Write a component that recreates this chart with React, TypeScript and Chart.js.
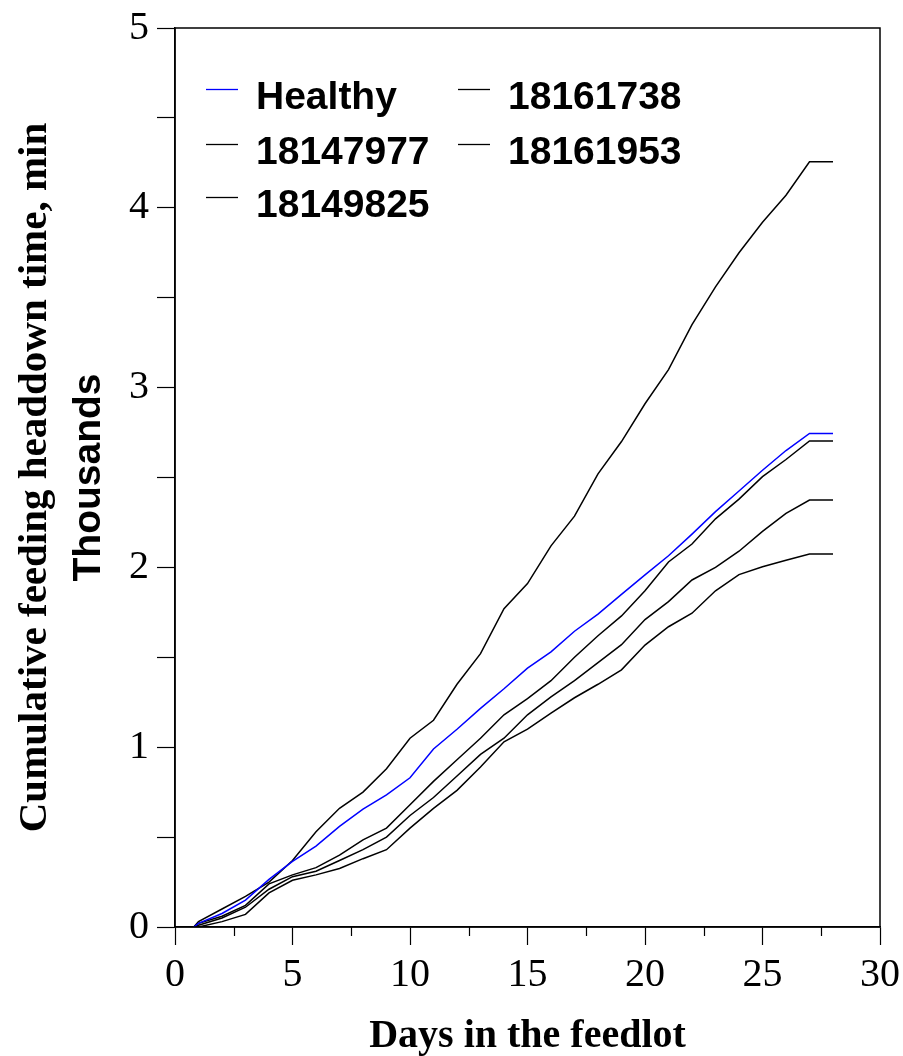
import React, { useEffect, useRef } from 'react';
import { Chart, registerables } from 'chart.js';

Chart.register(...registerables);

// ---- data ----
const days = [0.8, 1, 2, 3, 4, 5, 6, 7, 8, 9, 10, 11, 12, 13, 14, 15, 16, 17, 18, 19, 20, 21, 22, 23, 24, 25, 26, 27, 28];

const healthy = [0, 0.02, 0.075, 0.15, 0.265, 0.365, 0.45, 0.56, 0.655, 0.735, 0.83, 0.99, 1.1, 1.216, 1.325, 1.44, 1.53, 1.645, 1.74, 1.85, 1.958, 2.065, 2.185, 2.31, 2.425, 2.54, 2.65, 2.745, 2.745];
const s18147977 = [0, 0.02, 0.06, 0.12, 0.24, 0.29, 0.33, 0.4, 0.485, 0.55, 0.68, 0.81, 0.93, 1.05, 1.18, 1.27, 1.37, 1.5, 1.62, 1.73, 1.87, 2.03, 2.13, 2.27, 2.38, 2.505, 2.6, 2.703, 2.703];
const s18149825 = [0, 0.03, 0.1, 0.17, 0.25, 0.37, 0.53, 0.66, 0.75, 0.88, 1.05, 1.15, 1.35, 1.52, 1.77, 1.91, 2.12, 2.285, 2.52, 2.7, 2.91, 3.1, 3.35, 3.56, 3.75, 3.92, 4.07, 4.256, 4.256];
const s18161738 = [0, 0.01, 0.05, 0.11, 0.21, 0.28, 0.31, 0.37, 0.43, 0.5, 0.62, 0.72, 0.84, 0.96, 1.05, 1.18, 1.28, 1.37, 1.47, 1.57, 1.71, 1.81, 1.93, 2.0, 2.09, 2.2, 2.3, 2.375, 2.375];
const s18161953 = [0, 0.0, 0.03, 0.07, 0.19, 0.26, 0.29, 0.325, 0.38, 0.43, 0.55, 0.66, 0.76, 0.89, 1.03, 1.1, 1.19, 1.275, 1.35, 1.43, 1.568, 1.67, 1.745, 1.87, 1.96, 2.004, 2.04, 2.074, 2.074];

const seriesLabels = ['Healthy', '18147977', '18149825', '18161738', '18161953'];
const seriesValues = [healthy, s18147977, s18149825, s18161738, s18161953];
const seriesColors = ['#0000ff', '#000000', '#000000', '#000000', '#000000'];

const xMinorTicks = [2.5, 7.5, 12.5, 17.5, 22.5, 27.5];
const xTitle = 'Days in the feedlot';
const yTitleLine1 = 'Cumulative feeding headdown time, min';
const yTitleLine2 = 'Thousands';

const FONT_SERIF = '"Liberation Serif", "Times New Roman", Times, serif';
const FONT_SANS = '"Liberation Sans", Arial, Helvetica, sans-serif';

const overlayPlugin = {
  id: 'overlay',
  afterDraw(chart: any) {
    const { ctx, chartArea: a, scales } = chart;
    const xs = scales.x;
    ctx.save();
    // frame
    ctx.strokeStyle = '#000';
    ctx.lineWidth = 1.5;
    ctx.strokeRect(a.left, a.top, a.right - a.left, a.bottom - a.top);
    // minor x ticks
    ctx.beginPath();
    for (const v of xMinorTicks) {
      const px = Math.round(xs.getPixelForValue(v)) + 0.5;
      ctx.moveTo(px, a.bottom);
      ctx.lineTo(px, a.bottom + 9);
    }
    ctx.lineWidth = 1.2;
    ctx.stroke();

    // legend (column-major, 3 rows)
    const rowOffsets = [61, 116, 169];
    const colOffsets = [31, 283];
    ctx.font = `bold 39px ${FONT_SANS}`;
    ctx.textAlign = 'left';
    ctx.textBaseline = 'alphabetic';
    seriesLabels.forEach((lab, i) => {
      const col = Math.floor(i / 3);
      const row = i % 3;
      const x0 = a.left + colOffsets[col];
      const y0 = a.top + rowOffsets[row];
      ctx.beginPath();
      ctx.strokeStyle = seriesColors[i];
      ctx.lineWidth = 1.3;
      ctx.moveTo(x0, y0 + 0.5);
      ctx.lineTo(x0 + 32, y0 + 0.5);
      ctx.stroke();
      ctx.fillStyle = '#000';
      ctx.fillText(lab, x0 + 50, y0 + 19.5);
    });

    // y titles
    const cy = (a.top + a.bottom) / 2;
    ctx.save();
    ctx.translate(46, cy);
    ctx.rotate(-Math.PI / 2);
    ctx.textAlign = 'center';
    ctx.textBaseline = 'alphabetic';
    ctx.font = `bold 41px ${FONT_SERIF}`;
    ctx.fillText(yTitleLine1, 0, 0);
    ctx.restore();

    ctx.save();
    ctx.translate(100, cy);
    ctx.rotate(-Math.PI / 2);
    ctx.textAlign = 'center';
    ctx.textBaseline = 'alphabetic';
    ctx.font = `bold 39px ${FONT_SANS}`;
    ctx.fillText(yTitleLine2, 0, 0);
    ctx.restore();

    // x title
    ctx.textAlign = 'center';
    ctx.textBaseline = 'alphabetic';
    ctx.font = `bold 40px ${FONT_SERIF}`;
    ctx.fillText(xTitle, (a.left + a.right) / 2, 1047);
    ctx.restore();
  },
};

export default function App() {
  const ref = useRef<HTMLCanvasElement>(null);

  useEffect(() => {
    const canvas = ref.current;
    if (!canvas) return;
    const chart = new Chart(canvas, {
      type: 'line',
      data: {
        datasets: seriesLabels.map((label, i) => ({
          label,
          data: days.map((d, j) => ({ x: d, y: seriesValues[i][j] })),
          borderColor: seriesColors[i],
          backgroundColor: seriesColors[i],
          borderWidth: 1.5,
          pointRadius: 0,
          tension: 0,
          fill: false,
          order: i === 0 ? 0 : 1,
        })),
      },
      options: {
        animation: false,
        responsive: false,
        maintainAspectRatio: false,
        devicePixelRatio: 1,
        layout: { padding: { top: 28, right: 23, left: 0, bottom: 0 } },
        plugins: { legend: { display: false }, tooltip: { enabled: false } },
        scales: {
          x: {
            type: 'linear',
            min: 0,
            max: 30,
            ticks: {
              stepSize: 2.5,
              autoSkip: false,
              maxRotation: 0,
              padding: 6,
              color: '#000',
              font: { family: FONT_SERIF, size: 40 },
              callback: (v: any) => (Number(v) % 5 === 0 ? String(v) : ''),
            },
            grid: {
              drawOnChartArea: false,
              tickLength: 18,
              tickWidth: 1.2,
              tickColor: (c: any) => (c.tick && c.tick.value % 5 === 0 ? '#000' : 'rgba(0,0,0,0)'),
            },
            border: { display: true, color: '#000', width: 1.5 },
            afterFit: (s: any) => {
              s.height = 129;
              s.paddingLeft = 0;
              s.paddingRight = 0;
            },
          },
          y: {
            type: 'linear',
            min: 0,
            max: 5,
            ticks: {
              stepSize: 0.5,
              autoSkip: false,
              padding: 8,
              color: '#000',
              font: { family: FONT_SERIF, size: 40 },
              callback: (v: any) => (Number.isInteger(Number(v)) ? String(v) : ''),
            },
            grid: { drawOnChartArea: false, tickLength: 18, tickWidth: 1.2, tickColor: '#000' },
            border: { display: true, color: '#000', width: 1.5 },
            afterFit: (s: any) => {
              s.width = 175;
              s.paddingTop = 0;
              s.paddingBottom = 0;
            },
          },
        },
      },
      plugins: [overlayPlugin],
    });
    return () => chart.destroy();
  }, []);

  return (
    <div style={{ position: 'absolute', left: 0, top: 0, width: 903, height: 1056, background: '#fff' }}>
      <canvas ref={ref} width={903} height={1056} style={{ display: 'block', width: 903, height: 1056 }} />
    </div>
  );
}
